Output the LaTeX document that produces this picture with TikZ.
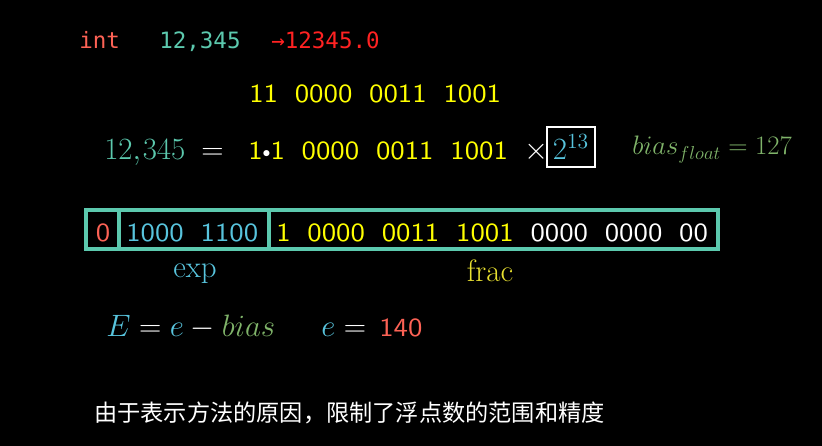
\RequirePackage{fix-cm}
\documentclass[tikz,border=0pt]{standalone}
\usepackage{amsmath}
\usepackage{fontspec}
\newfontfamily\codefont{DejaVu Sans Mono}
\newfontfamily\bitfont{lmsans10-regular.otf}[FakeStretch=1.1]
\newfontfamily\cjkfont{Noto Sans CJK SC}
\usetikzlibrary{positioning}
\definecolor{mred}{HTML}{FC6255}
\definecolor{pred}{HTML}{FF2222}
\definecolor{mteal}{HTML}{5CC9AE}
\definecolor{mblue}{HTML}{58C4DD}
\definecolor{myellow}{HTML}{FFFF00}
\definecolor{dyellow}{HTML}{E8E030}
\definecolor{mgreen}{HTML}{80B46A}
\newcommand{\bgap}{\hspace{0.42cm}}
\newcommand{\bdot}{{\color{white}\raisebox{0.1em}{\scalebox{0.6}{$\bullet$}}}}
\tikzset{
    codetext/.style={anchor=base west, inner sep=0pt,
        font=\codefont\fontsize{16}{19}\selectfont},
    bittext/.style={anchor=base west, inner sep=0pt,
        font=\bitfont\fontsize{18.6}{22}\selectfont},
    mathtext/.style={anchor=base west, inner sep=0pt,
        font=\fontsize{22}{26}\selectfont},
    cell/.style={draw=mteal, line width=2.2pt}
}
\begin{document}
\begin{tikzpicture}[x=0.025cm, y=-0.025cm]
	% 背景
	\fill[black] (0,0) rectangle (822,446);
	
	% 第一行
	\node[codetext, mred] (int) at (79,49) {int};
	\node[codetext, mteal] (val) at (159,49) {12,345};
	\node[codetext, pred] (flt) at (271,49) {→12345.0};
	
	% 二进制
	\node[bittext, myellow] (bin) at (249,103) {11\bgap0000\bgap0011\bgap1001};
	
	% 规格化
	\node[mathtext, mteal] (lhs) at (104,160) {$12{,}\mkern1mu345$};
	\node[mathtext, white] (eq) at (201,160) {$=$};
	\node[bittext, myellow] (mant) at (248,160) {1\bdot1\bgap0000\bgap0011\bgap1001};
	\node[mathtext, white] (times) at (524,160) {$\times$};
	\node[draw=white, line width=1.8pt, minimum width=1.2cm, minimum height=1cm,
	inner sep=0pt, font=\fontsize{22}{26}\selectfont, text=mblue] (pow) at (571,147) {$2^{13}$};
	\node[mathtext, mgreen, font=\fontsize{19}{23}\selectfont] (bias) at (632,155) {$bias_{float}=127$};
	
	% 位模式
	\draw[cell] (86,210) rectangle (718,249);
	\draw[cell] (119,210) -- (119,249);
	\draw[cell] (269,210) -- (269,249);
	\node[bittext, mred, anchor=base] (sign) at (103,241) {0};
	\node[bittext, mblue] (expbits) at (126,241) {1000\bgap1100};
	\node[bittext, myellow] (fracbits) at (276,241)
	{1\bgap0000\bgap0011\bgap1001\bgap{\color{white}0000\bgap0000\bgap00}};
	
	% 文字标注
	\node[mathtext, mblue, anchor=base] (exp) at (195,277) {exp};
	\node[mathtext, dyellow, anchor=base] (frac) at (490,281) {frac};
	\node[mathtext, white] (ebias) at (106,336)
	{${\color{mblue}E}={\color{mblue}e}-{\color{mgreen}bias}$};
	\node[mathtext, white] (eval) at (321,336) {${\color{mblue}e}=$};
	\node[bittext, mred] (eint) at (379,336) {140};
	
	% 中文
	\node[anchor=base west, inner sep=0pt, white,
	font=\cjkfont\fontsize{16.5}{20}\selectfont] (note) at (94,421)
	{由于表示方法的原因，限制了浮点数的范围和精度};
\end{tikzpicture}
\end{document}
